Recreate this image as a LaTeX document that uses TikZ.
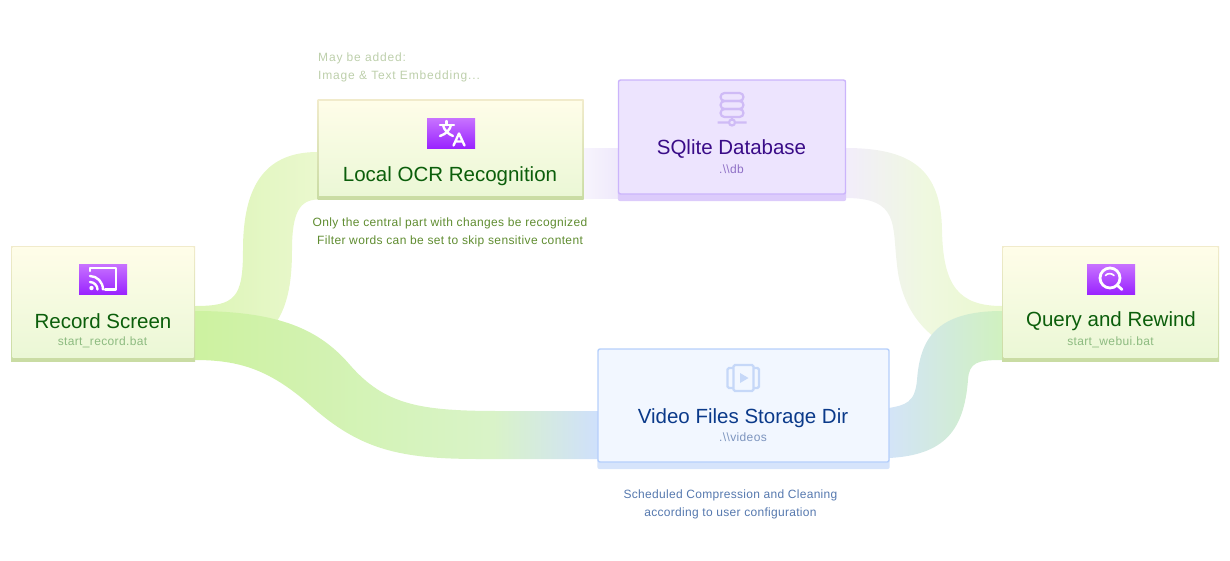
\documentclass[tikz,border=0pt]{standalone}
\usepackage{fontspec}
\setmainfont[LetterSpace=3]{Liberation Sans}
\usetikzlibrary{calc,backgrounds}
\definecolor{iconTop}{HTML}{C873FF}
\definecolor{iconBot}{HTML}{9A24FF}
\definecolor{greenTitle}{HTML}{0B5E0B}
\definecolor{greenSub}{HTML}{8DBB80}
\definecolor{greenNote}{HTML}{5F8C30}
\definecolor{greyNote}{HTML}{BDCFAB}
\definecolor{dbFill}{HTML}{EDE4FE}
\definecolor{dbLine}{HTML}{CBB4FB}
\definecolor{dbStrip}{HTML}{DCCBFB}
\definecolor{dbTitle}{HTML}{3A0C88}
\definecolor{dbSub}{HTML}{8F70C6}
\definecolor{dbIcon}{HTML}{CFBBF6}
\definecolor{vidFill}{HTML}{F2F7FF}
\definecolor{vidLine}{HTML}{B5CFFB}
\definecolor{vidStrip}{HTML}{D6E4FB}
\definecolor{vidTitle}{HTML}{0B3A8A}
\definecolor{vidSub}{HTML}{7C94BE}
\definecolor{vidNote}{HTML}{5578AE}
\definecolor{vidIcon}{HTML}{C6D8F8}
\definecolor{rA}{HTML}{DCF5B6}
\definecolor{rB}{HTML}{EAF8CE}
\definecolor{rC}{HTML}{CDF2A0}
\definecolor{rD}{HTML}{D9F3C8}
\definecolor{rE}{HTML}{CFE0FB}
\definecolor{rF}{HTML}{F7F4FD}
\definecolor{rG}{HTML}{EFE9FB}
\definecolor{rH}{HTML}{F2EDFB}
\definecolor{rI}{HTML}{EFF8E0}
\definecolor{rJ}{HTML}{D3E4F8}
\definecolor{rK}{HTML}{D0F1BF}
\pgfdeclarehorizontalshading{ribCap}{100bp}{color(0bp)=(rA); color(25bp)=(rA); color(75bp)=(rB); color(100bp)=(rB)}
\pgfdeclarehorizontalshading{ribVid}{100bp}{color(0bp)=(rC); color(25bp)=(rC); color(62bp)=(rD); color(75bp)=(rE); color(100bp)=(rE)}
\pgfdeclarehorizontalshading{ribOcr}{100bp}{color(0bp)=(rF); color(25bp)=(rF); color(75bp)=(rG); color(100bp)=(rG)}
\pgfdeclarehorizontalshading{ribDb}{100bp}{color(0bp)=(rH); color(25bp)=(rH); color(50bp)=(rI); color(75bp)=(rB); color(100bp)=(rB)}
\pgfdeclarehorizontalshading{ribQry}{100bp}{color(0bp)=(rJ); color(25bp)=(rJ); color(75bp)=(rK); color(100bp)=(rK)}
\tikzset{
 appbox/.style={rectangle, inner sep=0, outer sep=0, minimum width=#1, top color=boxEdgeT, bottom color=boxEdgeB,
  path picture={\shade[top color=boxT, bottom color=boxB] ($(path picture bounding box.north west)+(1.5,1.5)$) rectangle ($(path picture bounding box.south east)+(-1.5,-4)$);}},
 softbox/.style={rectangle, rounded corners=2, inner sep=0, outer sep=0, line width=1.4},
 badge/.style={rectangle, inner sep=0, minimum width=48, minimum height=30, top color=iconTop, bottom color=iconBot},
 glyph/.style={white, line width=2.4, line cap=round, line join=round},
 title/.style={inner sep=0, font=\fontsize{20.5}{24}\selectfont\addfontfeature{LetterSpace=0}},
 subtitle/.style={inner sep=0, font=\fontsize{12}{14}\selectfont},
 note/.style={inner sep=0, font=\fontsize{12}{14}\selectfont},
 hint/.style={inner sep=0, anchor=west, font=\fontsize{12}{14}\selectfont\addfontfeature{LetterSpace=7}},
 plan/.style={inner sep=0, font=\fontsize{12}{14}\selectfont\addfontfeature{LetterSpace=2.5}}
}
\definecolor{boxEdgeT}{HTML}{F1EBCB}
\definecolor{boxEdgeB}{HTML}{C9DCA3}
\definecolor{boxT}{HTML}{FFFDE9}
\definecolor{boxB}{HTML}{EAF7D5}
\begin{document}
\begin{tikzpicture}[x=1pt,y=-1pt]
\useasboundingbox (0,0) rectangle (1230,560);
\foreach \n/\cx/\cy/\w/\h in {rec/103/303.5/184/115, ocr/450.5/149.5/266/100, qry/1110.5/303.5/217/115} {
 \node[appbox=\w, minimum height=\h] (\n) at (\cx,\cy) {};
}
\node[softbox, draw=dbLine, fill=dbFill, minimum width=227, minimum height=114] (db) at (732,137) {};
\node[softbox, draw=vidLine, fill=vidFill, minimum width=291, minimum height=113] (vid) at (743.5,405.5) {};
\begin{scope}[on background layer]
\shade[shading=ribCap] ($(rec.east)+(0,2.5)$) .. controls (235,306) and (243,298) .. (243,250) .. controls (243,190) and (262,152) .. ($(ocr.west)+(0,2.5)$) -- ($(ocr.west)+(0,50)$) .. controls (300,200) and (292,212) .. (292,250) .. controls (292,305) and (280,356) .. ($(rec.east)+(0,52.5)$) -- cycle;
\shade[shading=ribOcr] ($(ocr.east)+(0,-1.5)$) -- ($(db.west)+(0,11)$) -- ($(db.west)+(0,61)$) -- ($(ocr.east)+(0,48.5)$) -- cycle;
\shade[shading=ribDb] ($(db.east)+(0,11)$) .. controls (912,148) and (941,170) .. (942,230) .. controls (943,285) and (958,306) .. ($(qry.west)+(0,2.5)$) -- ($(qry.west)+(0,52.5)$) .. controls (975,362) and (905,345) .. (897,265) .. controls (892,225) and (900,198) .. ($(db.east)+(0,61)$) -- cycle;
\shade[shading=ribVid] ($(rec.east)+(0,7.5)$) .. controls (280,311) and (320,330) .. (350,365) .. controls (385,405) and (420,411) .. (500,411) -- ($(vid.west)+(0,5.5)$) -- ($(vid.west)+(0,53.5)$) -- (480,459) .. controls (400,459) and (360,450) .. (310,405) .. controls (270,370) and (240,360) .. ($(rec.east)+(0,56.5)$) -- cycle;
\shade[shading=ribQry] ($(vid.east)+(0,2.5)$) .. controls (905,405) and (915,403) .. (917,380) .. controls (920,340) and (935,311) .. ($(qry.west)+(0,7.5)$) -- ($(qry.west)+(0,56.5)$) .. controls (978,360) and (969,362) .. (968,380) .. controls (964,430) and (945,455) .. ($(vid.east)+(0,52.5)$) -- cycle;
\fill[dbStrip, rounded corners=2] ($(db.south west)+(-.7,-5)$) rectangle ($(db.south east)+(.7,7)$);
\fill[vidStrip, rounded corners=2] ($(vid.south west)+(-.7,-5)$) rectangle ($(vid.south east)+(.7,7)$);
\end{scope}
\node[badge] (recIcon) at (103,279) {};
\node[badge] (ocrIcon) at (451,133) {};
\node[badge] (qryIcon) at (1111,279) {};
\draw[glyph] (90,271) -- (90,268) -- (116,268) -- (116,289.5) -- (105,289.5);
\draw[glyph] (90,276) .. controls (97,276) and (103,282) .. (103,289.5);
\draw[glyph] (90,282) .. controls (94,282) and (97.5,285.5) .. (97.5,289.5);
\fill[white] (91.5,288) circle (2.2);
\draw[glyph] (446.5,121) -- (446.5,125) (440,125) -- (454,125);
\draw[glyph] (443,125) .. controls (444,130) and (448,134) .. (453,136);
\draw[glyph] (451,125) .. controls (450,130) and (446,134) .. (440,136);
\draw[glyph] (453.5,145.5) -- (459,133.5) -- (464.5,145.5) (455.5,141.5) -- (462.5,141.5);
\draw[glyph, line width=2.8] (1110,278) circle (10);
\draw[glyph, line width=2.8] (1117.5,285.5) -- (1122,289.5);
\draw[white, line width=1.6, line cap=round] (1105.5,275.5) .. controls (1107,273) and (1112,273) .. (1114,275.5);
\foreach \y in {93,101,109} {
 \draw[dbIcon, line width=2.2, rounded corners=4] (720.5,\y) rectangle (743.5,\y+8);
}
\draw[dbIcon, line width=2.2] (732,117) -- (732,120) (717.5,122.5) -- (728,122.5) (736,122.5) -- (746.5,122.5) (732,122.5) circle (3);
\draw[vidIcon, line width=2.4, rounded corners=1.5] (733.5,365) rectangle (753.5,391);
\draw[vidIcon, line width=2.4, rounded corners=1.5] (733.5,368) -- (727.5,368) -- (727.5,388) -- (733.5,388) (753.5,368) -- (759,368) -- (759,388) -- (753.5,388);
\fill[vidIcon] (740,373) -- (748.5,378) -- (740,383) -- cycle;
\node[title, text=greenTitle] (recT) at (103,321) {Record Screen};
\node[subtitle, text=greenSub] (recS) at (102.5,342) {start\_record.bat};
\node[title, text=greenTitle] (ocrT) at (450,176) {Local OCR Recognition};
\node[title, text=greenTitle] (qryT) at (1111,321) {Query and Rewind};
\node[subtitle, text=greenSub] (qryS) at (1110.5,342) {start\_webui.bat};
\node[title, text=dbTitle] (dbT) at (731.5,149) {SQlite Database};
\node[subtitle, text=dbSub] (dbS) at (731.5,169.5) {.\textbackslash\textbackslash db};
\node[title, text=vidTitle] (vidT) at (743,418) {Video Files Storage Dir};
\node[subtitle, text=vidSub] (vidS) at (743,437.5) {.\textbackslash\textbackslash videos};
\node[hint, text=greyNote] (addA) at (318,58) {May be added:};
\node[hint, text=greyNote] (addB) at (318,76) {Image \& Text Embedding...};
\node[note, text=greenNote] (ocrA) at (450,223) {Only the central part with changes be recognized};
\node[note, text=greenNote] (ocrB) at (450,241) {Filter words can be set to skip sensitive content};
\node[plan, text=vidNote] (vidA) at (730.5,495) {Scheduled Compression and Cleaning};
\node[plan, text=vidNote] (vidB) at (730.5,513) {according to user configuration};
\end{tikzpicture}
\end{document}
